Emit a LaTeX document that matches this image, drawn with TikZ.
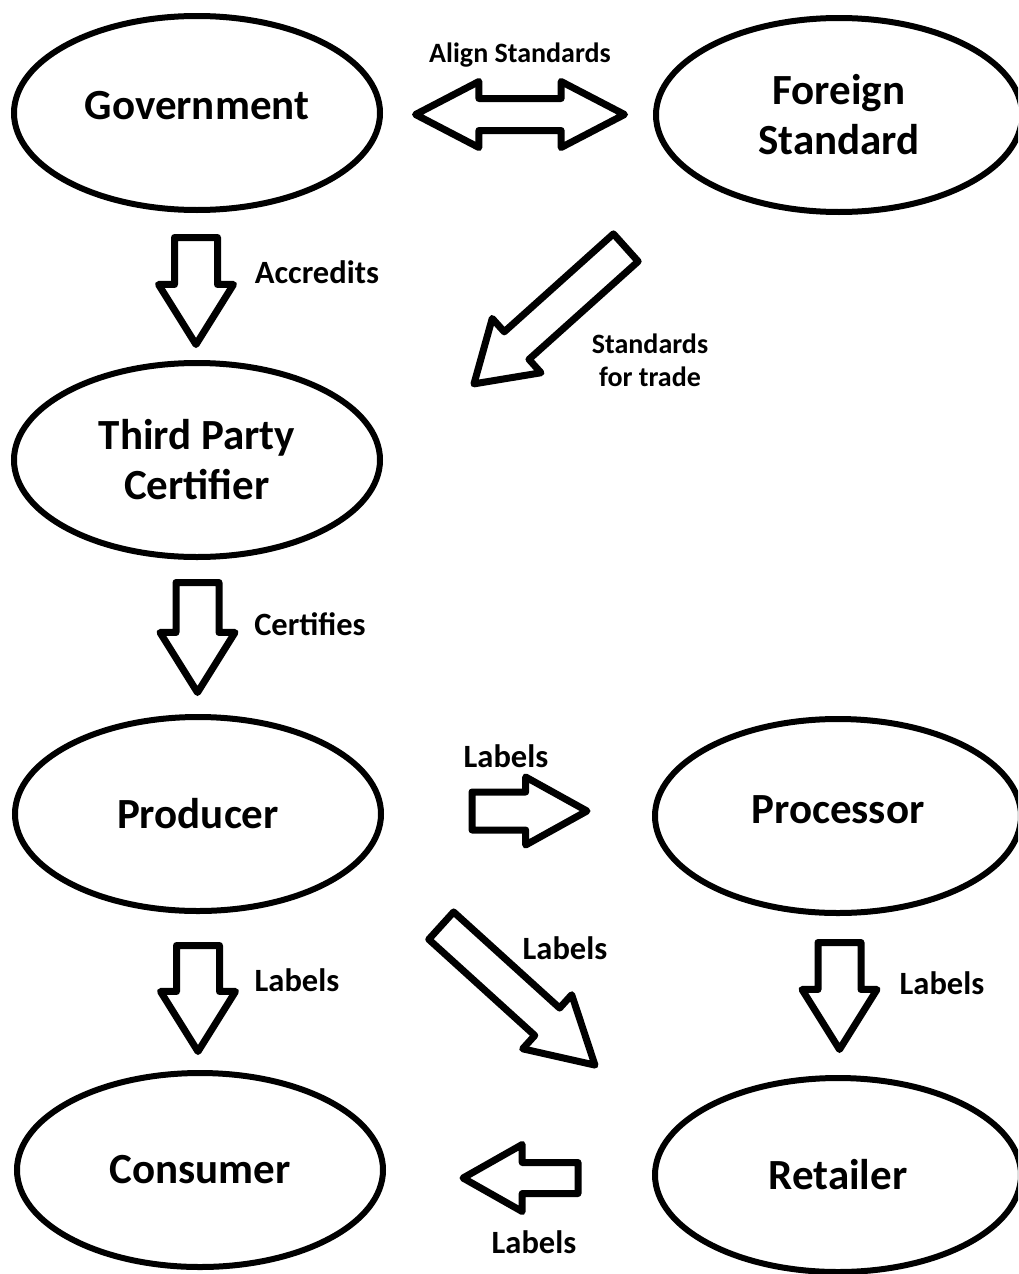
\documentclass[tikz,border=0pt]{standalone}
\usepackage{fontspec}
\setmainfont{Carlito}
\usetikzlibrary{shapes,arrows}

\begin{document}
\begin{tikzpicture}[x=1pt,y=-1pt]

\edef\sizeline{7pt}
\tikzstyle{party}=[draw,ellipse,line width=6pt,minimum width=366pt,minimum height=194pt,inner sep=0pt,align=center,font=\bfseries\fontsize{43}{50}\selectfont]
\tikzstyle{flow}=[draw,single arrow,line width=\sizeline,line join=round,anchor=tail,inner xsep=0pt,inner ysep=18pt,single arrow head extend=16pt,single arrow tip angle=64,single arrow head indent=0pt]
\tikzstyle{flowside}=[flow,inner ysep=15.5pt,single arrow head extend=15pt,single arrow tip angle=58]
\tikzstyle{flowdiag}=[flow,inner ysep=15pt,single arrow head extend=18pt,single arrow tip angle=62]
\tikzstyle{flowtext}=[font=\bfseries\fontsize{32.5}{38}\selectfont,align=center,inner sep=0pt]
\tikzstyle{flowsmall}=[flowtext,font=\bfseries\fontsize{28}{33}\selectfont]

\useasboundingbox (0,0) rectangle (1018,1274);
\clip (0,0) rectangle (1018,1274);

%% Parties
\node [party,text depth=16pt] (gov) at (197,113) {Government};
\node [party] (foreign) at (839,115) {Foreign\\Standard};
\node [party] (certifier) at (197,460) {Third Party\\Certifier};
\node [party] (producer) at (198,814) {Producer};
\node [party,text depth=12pt] (processor) at (838,816) {Processor};
\node [party] (consumer) at (200,1170) {Consumer};
\node [party] (retailer) at (838,1175) {Retailer};

%% Block arrows
\node [draw,double arrow,line width=\sizeline,line join=round,inner xsep=0pt,inner ysep=12.5pt,
       double arrow head extend=17pt,double arrow tip angle=55,minimum height=209pt] (align) at (520,114.5) {};
\node [flow,rotate=-90,minimum height=107pt] (accredits) at (196,234) {};
\node [flowdiag,rotate=221.9,minimum height=204pt,single arrow tip angle=65] (trade) at (628.4,245.3) {};
\node [flow,rotate=-90,minimum height=110pt] (certifies) at (197.5,579) {};
\node [flowside,minimum height=115pt] (tolabel) at (468.5,811) {};
\node [flow,rotate=-90,minimum height=106pt] (toconsumer) at (198,942) {};
\node [flowdiag,rotate=-42.2,minimum height=207.6pt,single arrow tip angle=59] (toretailer) at (438.6,923.3) {};
\node [flow,rotate=-90,minimum height=107pt] (procretail) at (839.5,939) {};
\node [flowside,rotate=180,minimum height=115pt,inner ysep=12pt,single arrow head extend=18pt,single arrow tip angle=59] (retailcons) at (581.5,1178) {};

%% Arrow labels
\node [flowsmall] (alignlbl) at (520,55) {Align Standards};
\node [flowtext] (accreditslbl) at (317,272) {Accredits};
\node [flowsmall] (tradelbl) at (650,360) {Standards\\for trade};
\node [flowtext] (certifieslbl) at (310,624) {Certifies};
\node [flowtext] (tolabellbl) at (506,756) {Labels};
\node [flowtext] (toconsumerlbl) at (297,980) {Labels};
\node [flowtext] (toretailerlbl) at (565,948) {Labels};
\node [flowtext] (procretaillbl) at (942,983) {Labels};
\node [flowtext] (retailconslbl) at (534,1242) {Labels};

\end{tikzpicture}
\end{document}
